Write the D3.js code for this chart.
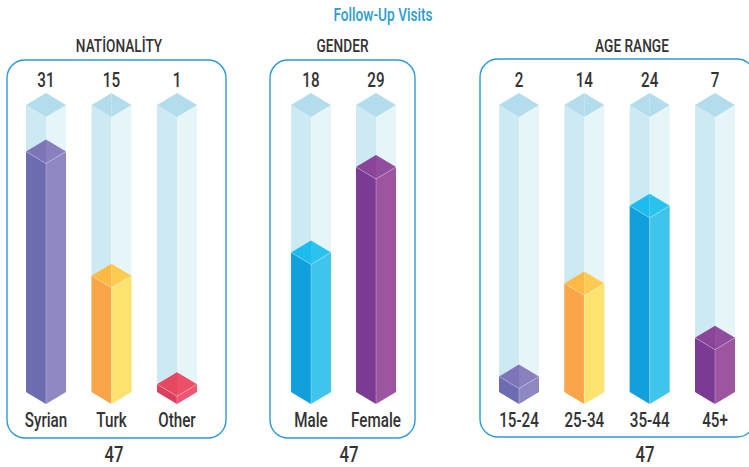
<!DOCTYPE html>
<html>
<head>
<meta charset="utf-8">
<script src="https://cdn.jsdelivr.net/npm/d3@7"></script>
<style>
  body { margin: 0; background: #fff; }
  svg text { font-family: Roboto, "DejaVu Sans", sans-serif; }
</style>
</head>
<body>
<svg id="chart" width="749" height="467"></svg>
<script>
// data
var title = "Follow-Up Visits";
var groupNames = ["NATİONALİTY", "GENDER", "AGE RANGE"];
var groupTotals = [47, 47, 47];

var nationalityCats = ["Syrian", "Turk", "Other"];
var nationalityVals = [31, 15, 1];

var genderCats = ["Male", "Female"];
var genderVals = [18, 29];

var ageCats = ["15-24", "25-34", "35-44", "45+"];
var ageVals = [2, 14, 24, 7];

// colours: left face, right face, top left half, top right half
var purple = ["#6b6cb1", "#8e87c1", "#7c75b7", "#8881be"];
var orange = ["#f9a548", "#fce370", "#fdb944", "#fdcb52"];
var red    = ["#dc3f5b", "#ef5570", "#e64862", "#ec5069"];
var blue   = ["#12a0dc", "#3fc5ec", "#1dbcee", "#2ac3ee"];
var violet = ["#7b3a93", "#9e55a0", "#8a449a", "#914d9e"];
var ghost  = ["#cde9f2", "#e6f5f8", "#b3dcec", "#b3dcec"];

// layout of each panel (box + column centres)
var layout = [
  {box: [7, 60, 219, 378],   xr: [46, 177]},
  {box: [270, 60, 145, 378], xr: [311, 376]},
  {box: [480, 59, 275, 378], xr: [519, 715]}
];

var groups = [
  {cats: nationalityCats, vals: nationalityVals, colors: [purple, orange, red]},
  {cats: genderCats, vals: genderVals, colors: [blue, violet]},
  {cats: ageCats, vals: ageVals, colors: [purple, orange, blue, violet]}
];

var svg = d3.select("#chart");
var ink = "#333333";
var halfW = 20, halfH = 12;
var base = 392;

// column height scale (full ghost column ~ 37)
var y = d3.scaleLinear().domain([0, 37]).range([base, 105]);

function label(g, x, yy, txt, size, color, weight) {
  g.append("text")
    .attr("transform", "translate(" + x + "," + yy + ") scale(0.76,1)")
    .attr("text-anchor", "middle")
    .attr("font-size", size)
    .attr("font-weight", weight || 500)
    .attr("fill", color)
    .text(txt);
}

function column(g, cx, yc, c, edge) {
  var line = d3.line();
  g.append("path").attr("fill", c[0])
    .attr("d", line([[cx - halfW, yc], [cx, yc + halfH], [cx, base + halfH], [cx - halfW, base]]) + "Z");
  g.append("path").attr("fill", c[1])
    .attr("d", line([[cx, yc + halfH], [cx + halfW, yc], [cx + halfW, base], [cx, base + halfH]]) + "Z");
  g.append("path").attr("fill", c[2])
    .attr("d", line([[cx, yc - halfH], [cx, yc + halfH], [cx - halfW, yc]]) + "Z");
  g.append("path").attr("fill", c[3])
    .attr("d", line([[cx, yc - halfH], [cx + halfW, yc], [cx, yc + halfH]]) + "Z");
  if (edge) {
    // faint highlight on the front edge
    g.append("path")
      .attr("stroke", "rgba(255,255,255,0.35)").attr("stroke-width", 0.8).attr("fill", "none")
      .attr("d", line([[cx - halfW, yc], [cx, yc + halfH], [cx + halfW, yc]]) + "M" + cx + "," + (yc + halfH) + "L" + cx + "," + (base + halfH));
  }
}

label(svg, 383, 21, title, 18, "#2a9bd5", 500);

groups.forEach(function(grp, i) {
  var lay = layout[i];
  var g = svg.append("g");
  var b = lay.box;

  g.append("rect")
    .attr("x", b[0]).attr("y", b[1])
    .attr("width", b[2]).attr("height", b[3])
    .attr("rx", 18).attr("ry", 18)
    .attr("fill", "none")
    .attr("stroke", "#2a9ad6")
    .attr("stroke-width", 1.4);

  var x = d3.scalePoint().domain(grp.cats).range(lay.xr);
  var mid = b[0] + b[2] / 2;
  if (i == 2) mid = 632; // box runs off the right edge

  label(g, i == 0 ? 119 : mid, 52, groupNames[i], 18, ink);
  label(g, i == 0 ? 114 : (i == 1 ? 349 : 645), 462, groupTotals[i], 22, ink);

  grp.cats.forEach(function(cat, j) {
    var cx = x(cat);
    column(g, cx, y.range()[1], ghost, false);
    column(g, cx, y(grp.vals[j]), grp.colors[j], true);
    label(g, cx, 87, grp.vals[j], 20, ink);
    label(g, cx, 427, cat, 20, ink);
  });
});
</script>
</body>
</html>
